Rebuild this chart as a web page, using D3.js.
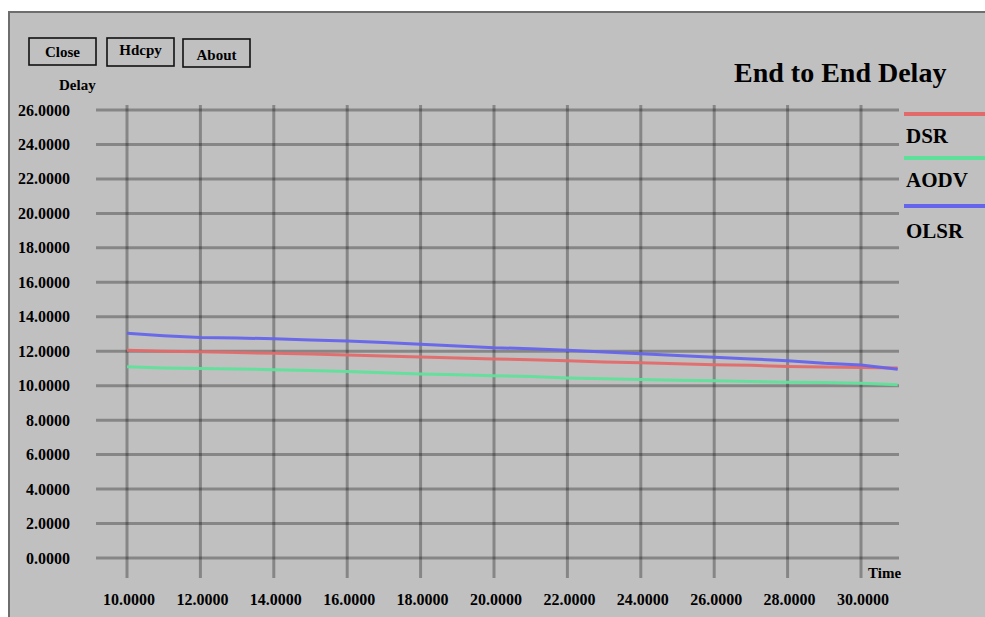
<!DOCTYPE html>
<html>
<head>
<meta charset="utf-8">
<script src="https://cdn.jsdelivr.net/npm/d3@7/dist/d3.min.js"></script>
<style>
html,body{margin:0;padding:0;background:#fff;}
svg{display:block;}
text{font-family:"Liberation Serif","Times New Roman",serif;font-weight:bold;fill:#000;}
</style>
</head>
<body>
<svg id="c" width="985" height="617"></svg>
<script>
const times = [10,11,12,13,14,15,16,17,18,19,20,21,22,23,24,25,26,27,28,29,30,31];
const dsr  = [12.05,12.0,11.97,11.92,11.88,11.84,11.78,11.72,11.66,11.6,11.55,11.5,11.45,11.38,11.33,11.27,11.22,11.18,11.12,11.08,11.05,11.02];
const aodv = [11.1,11.03,11.0,10.97,10.93,10.88,10.82,10.75,10.68,10.63,10.58,10.53,10.45,10.4,10.36,10.32,10.28,10.24,10.2,10.18,10.14,10.05];
const olsr = [13.04,12.9,12.8,12.77,12.72,12.65,12.6,12.5,12.4,12.3,12.2,12.15,12.05,11.95,11.85,11.75,11.65,11.55,11.45,11.3,11.2,10.95];
const seriesNames = ["DSR","AODV","OLSR"];
const seriesColors = ["#e36a6a","#5fe09a","#6464ec"];
const yTicks = [0,2,4,6,8,10,12,14,16,18,20,22,24,26];
const xTicks = [10,12,14,16,18,20,22,24,26,28,30];
const buttons = ["Close","Hdcpy","About"];
const title = "End to End Delay";

const svg = d3.select("#c");
const defs = svg.append("defs");
defs.append("filter").attr("id","blur").append("feGaussianBlur").attr("stdDeviation",0.7);

// frame
svg.append("rect").attr("x",9).attr("y",12).attr("width",990).attr("height",620)
  .attr("fill","#c0c0c0").attr("stroke","#6e6e6e").attr("stroke-width",2);

const x = d3.scaleLinear().domain([10,30]).range([127,861]);
const y = d3.scaleLinear().domain([0,26]).range([558,110]);

const grid = svg.append("g").attr("filter","url(#blur)");
grid.selectAll("line.h").data(yTicks).join("line")
  .attr("x1",96).attr("x2",899).attr("y1",d=>y(d)).attr("y2",d=>y(d))
  .attr("stroke","#000").attr("stroke-opacity",0.3).attr("stroke-width",3);
grid.selectAll("line.v").data(xTicks).join("line")
  .attr("x1",d=>x(d)).attr("x2",d=>x(d)).attr("y1",105).attr("y2",578)
  .attr("stroke","#000").attr("stroke-opacity",0.3).attr("stroke-width",3);

// y labels
svg.selectAll("text.yl").data(yTicks).join("text")
  .attr("x",70).attr("y",d=>y(d)+5.5).attr("text-anchor","end")
  .style("font-size","16px").text(d=>d.toFixed(4));
// x labels
svg.selectAll("text.xl").data(xTicks).join("text")
  .attr("x",d=>x(d)+2).attr("y",605).attr("text-anchor","middle")
  .style("font-size","16px").text(d=>d.toFixed(4));

svg.append("text").attr("x",59).attr("y",90).style("font-size","15px").text("Delay");
svg.append("text").attr("x",868).attr("y",578).style("font-size","15px").text("Time");
svg.append("text").attr("x",734).attr("y",82).style("font-size","28px").text(title);

// buttons
const btnBox = [[29,38,67,27,57],[107,38,67,28,55],[183,39,67,28,60]];
buttons.forEach((b,i)=>{
  const [bx,by,bw,bh,ty] = btnBox[i];
  svg.append("rect").attr("x",bx).attr("y",by).attr("width",bw).attr("height",bh)
    .attr("fill","none").attr("stroke","#111").attr("stroke-width",1.6);
  svg.append("text").attr("x",bx+bw/2).attr("y",ty).attr("text-anchor","middle")
    .style("font-size","15px").text(b);
});

// lines
const allSeries = [dsr,aodv,olsr];
const line = d3.line().x((d,i)=>x(times[i])).y(d=>y(d));
allSeries.forEach((s,i)=>{
  svg.append("path").datum(s).attr("d",line).attr("fill","none")
    .attr("stroke",seriesColors[i]).attr("stroke-width",3).attr("stroke-opacity",0.95);
});

// legend
const legY = [114,158,206];
const legT = [143,187,238];
seriesNames.forEach((n,i)=>{
  svg.append("line").attr("x1",904).attr("x2",985).attr("y1",legY[i]).attr("y2",legY[i])
    .attr("stroke",seriesColors[i]).attr("stroke-width",4);
  svg.append("text").attr("x",906).attr("y",legT[i]).style("font-size","21px").text(n);
});
</script>
</body>
</html>
